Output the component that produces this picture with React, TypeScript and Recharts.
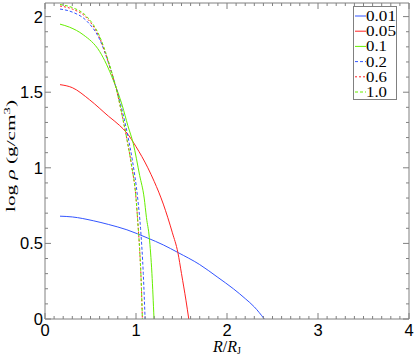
import { LineChart, Line, XAxis, YAxis } from "recharts";

// R/RJ and log rho, one pair of arrays per curve
const r001 = [0.165, 0.3, 0.53, 0.7, 0.9, 1.13, 1.3, 1.46, 1.7, 1.9, 2.07, 2.2, 2.3, 2.41];
const rho001 = [0.68, 0.675, 0.65, 0.625, 0.59, 0.535, 0.49, 0.44, 0.36, 0.275, 0.2, 0.135, 0.08, 0];

const r005 = [0.165, 0.3, 0.49, 0.7, 0.82, 0.9, 1.0, 1.13, 1.2, 1.3, 1.4, 1.46, 1.5, 1.55, 1.58];
const rho005 = [1.55, 1.53, 1.45, 1.34, 1.28, 1.23, 1.14, 1.0, 0.91, 0.76, 0.57, 0.44, 0.3, 0.12, 0];

const r01 = [0.165, 0.27, 0.42, 0.6, 0.75, 0.85, 0.91, 0.97, 1.04, 1.09, 1.115, 1.146, 1.175, 1.198];
const rho01 = [1.95, 1.93, 1.88, 1.77, 1.58, 1.41, 1.28, 1.16, 0.95, 0.8, 0.67, 0.54, 0.3, 0];

const r02 = [0.165, 0.3, 0.46, 0.6, 0.7, 0.8, 0.86, 0.91, 0.96, 1.02, 1.05, 1.08, 1.1];
const rho02 = [2.05, 2.03, 1.97, 1.85, 1.69, 1.49, 1.35, 1.21, 1.05, 0.79, 0.6, 0.3, 0];

const r06 = [0.165, 0.3, 0.46, 0.6, 0.7, 0.8, 0.85, 0.9, 0.95, 1.0, 1.02, 1.04, 1.06, 1.07];
const rho06 = [2.07, 2.05, 1.99, 1.86, 1.69, 1.48, 1.34, 1.19, 1.02, 0.8, 0.64, 0.46, 0.2, 0];

const r10 = [0.165, 0.3, 0.46, 0.6, 0.7, 0.8, 0.85, 0.9, 0.95, 1.0, 1.02, 1.04, 1.06, 1.07];
const rho10 = [2.08, 2.06, 2.0, 1.87, 1.7, 1.48, 1.34, 1.19, 1.02, 0.8, 0.64, 0.46, 0.2, 0];

const legendLabels = ["0.01", "0.05", "0.1", "0.2", "0.6", "1.0"];

const xMajor = [0, 1, 2, 3, 4];
const yMajor = [0, 0.5, 1, 1.5, 2];
const xTicks = Array.from({ length: 41 }, (_, i) => +(i / 10).toFixed(1));
const yTicks = Array.from({ length: 21 }, (_, i) => +(i / 10).toFixed(1));

const BLUE = "#3355ff";
const RED = "#ff2222";
const GREEN = "#66ee00";
const GREY = "#808080";
const SANS = "'Liberation Sans', Arial, sans-serif";
const SERIF = "'Liberation Serif', 'Times New Roman', serif";

const series = [
  { r: r001, rho: rho001, color: BLUE, dash: undefined },
  { r: r005, rho: rho005, color: RED, dash: undefined },
  { r: r01, rho: rho01, color: GREEN, dash: undefined },
  { r: r02, rho: rho02, color: BLUE, dash: "3 2" },
  { r: r06, rho: rho06, color: RED, dash: "2 2" },
  { r: r10, rho: rho10, color: GREEN, dash: "3 2" },
];

const pts = (xs: number[], ys: number[]) => xs.map((x, i) => ({ x, y: ys[i] }));
const near = (v: number, list: number[]) => list.some((m) => Math.abs(m - v) < 1e-6);

function BottomTick({ x, y, payload }: any) {
  const major = near(payload.value, xMajor);
  return (
    <g>
      <line x1={x} x2={x} y1={y} y2={y - (major ? 6 : 3)} stroke={GREY} />
      {major && (
        <text x={x} y={y + 11} textAnchor="middle" dominantBaseline="central" fontFamily={SANS} fontSize={16.5} fill="#000">
          {payload.value}
        </text>
      )}
    </g>
  );
}

function TopTick({ x, y, payload }: any) {
  const major = near(payload.value, xMajor);
  return <line x1={x} x2={x} y1={y} y2={y + (major ? 6 : 3)} stroke={GREY} />;
}

function LeftTick({ x, y, payload }: any) {
  const major = near(payload.value, yMajor);
  return (
    <g>
      <line x1={x} x2={x + (major ? 6 : 3)} y1={y} y2={y} stroke={GREY} />
      {major && (
        <text x={x - 2} y={y} textAnchor="end" dominantBaseline="central" fontFamily={SANS} fontSize={16.5} fill="#000">
          {payload.value}
        </text>
      )}
    </g>
  );
}

function RightTick({ x, y, payload }: any) {
  const major = near(payload.value, yMajor);
  return <line x1={x} x2={x - (major ? 6 : 3)} y1={y} y2={y} stroke={GREY} />;
}

export default function App() {
  return (
    <div style={{ position: "absolute", left: 0, top: 0, width: 415, height: 356, background: "#fff" }}>
      <LineChart width={415} height={356} margin={{ top: 2, right: 5, bottom: 36, left: 44 }}>
        <XAxis
          type="number"
          dataKey="x"
          domain={[0, 4]}
          allowDataOverflow
          ticks={xTicks}
          interval={0}
          height={1}
          tickSize={0}
          tickMargin={0}
          axisLine={{ stroke: GREY }}
          tickLine={false}
          tick={<BottomTick />}
        />
        <XAxis
          xAxisId="top"
          orientation="top"
          type="number"
          dataKey="x"
          domain={[0, 4]}
          allowDataOverflow
          ticks={xTicks}
          interval={0}
          height={1}
          tickSize={0}
          tickMargin={0}
          axisLine={{ stroke: GREY }}
          tickLine={false}
          tick={<TopTick />}
        />
        <YAxis
          type="number"
          domain={[0, 2.09]}
          allowDataOverflow
          ticks={yTicks}
          interval={0}
          width={1}
          tickSize={0}
          tickMargin={0}
          axisLine={{ stroke: GREY }}
          tickLine={false}
          tick={<LeftTick />}
        />
        <YAxis
          yAxisId="right"
          orientation="right"
          type="number"
          domain={[0, 2.09]}
          allowDataOverflow
          ticks={yTicks}
          interval={0}
          width={1}
          tickSize={0}
          tickMargin={0}
          axisLine={{ stroke: GREY }}
          tickLine={false}
          tick={<RightTick />}
        />
        {series.map((s, i) => (
          <Line
            key={i}
            data={pts(s.r, s.rho)}
            dataKey="y"
            type="monotone"
            stroke={s.color}
            strokeWidth={1}
            strokeDasharray={s.dash}
            dot={false}
            activeDot={false}
            isAnimationActive={false}
          />
        ))}
      </LineChart>
      <svg width={415} height={356} style={{ position: "absolute", left: 0, top: 0, pointerEvents: "none" }}>
        <rect x={353.5} y={6.5} width={43} height={93} fill="#fff" stroke={GREY} />
        {series.map((s, i) => {
          const cy = 16 + i * 15.2;
          return (
            <g key={i}>
              <line x1={355} x2={366} y1={cy} y2={cy} stroke={s.color} strokeDasharray={s.dash} />
              <text
                x={366}
                y={cy + 5}
                fontFamily={SERIF}
                fontSize={15}
                fill="#000"
                textLength={legendLabels[i].length === 4 ? 30 : 21}
                lengthAdjust="spacingAndGlyphs"
              >
                {legendLabels[i]}
              </text>
            </g>
          );
        })}
        <text x={227} y={352} textAnchor="middle" fontFamily={SERIF} fontSize={16} fill="#000">
          <tspan fontStyle="italic">R</tspan>/<tspan fontStyle="italic">R</tspan>
          <tspan fontSize={10} dy={2}>J</tspan>
        </text>
        <g transform="translate(15,156) rotate(-90)">
          <text x={0} y={0} textAnchor="middle" fontFamily={SERIF} fontSize={13} fill="#000" textLength={112} lengthAdjust="spacingAndGlyphs">
            log <tspan fontStyle="italic">ρ</tspan> (g/cm<tspan fontSize={9} dy={-5}>3</tspan>
            <tspan dy={5}>)</tspan>
          </text>
        </g>
      </svg>
    </div>
  );
}
